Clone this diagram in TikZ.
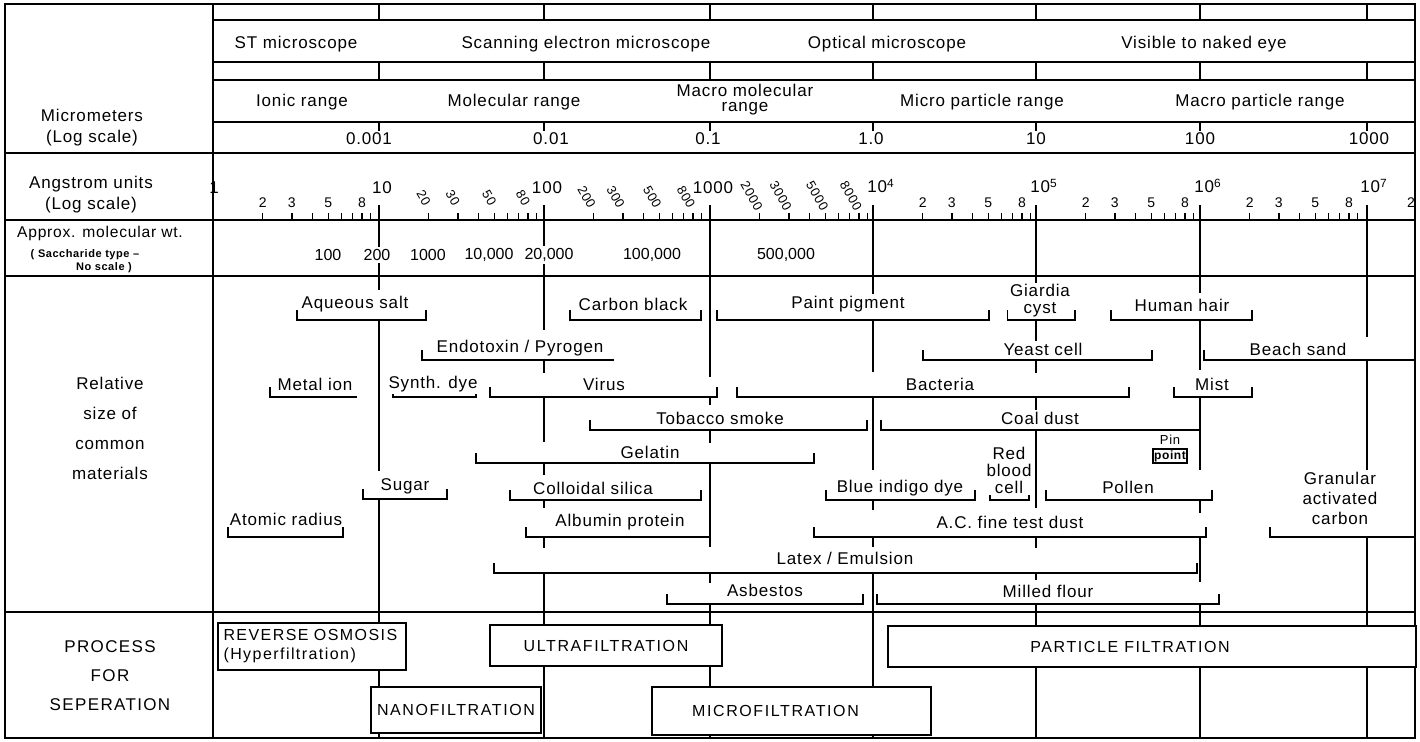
\documentclass[tikz,border=0pt]{standalone}
\usepackage{fontspec}
\setmainfont{Liberation Sans}[LetterSpace=5]
\usetikzlibrary{positioning}

% bracket with ticks at both ends / at the left end only
\newcommand{\brkb}[3]{\draw (#1,{#3-10}) -- (#1,#3) -- (#2,#3) -- (#2,{#3-10});}
\newcommand{\brkl}[3]{\draw (#1,{#3-10}) -- (#1,#3) -- (#2,#3);}

\begin{document}
\begin{tikzpicture}[
    x=0.5pt, y=-0.5pt,
    line width=0.8pt,
    font=\fontsize{8.5}{10}\selectfont,
    mat/.style={fill=white, inner sep=1pt, align=center},
    hdr/.style={inner sep=1pt, align=center},
    side/.style={inner sep=1pt, align=center, font=\fontsize{8.5}{10.5}\selectfont},
    small/.style={inner sep=0.5pt, font=\fontsize{7}{8}\selectfont},
    slant/.style={inner sep=0.5pt, rotate=-60, font=\fontsize{6.5}{7}\selectfont},
    mw/.style={fill=white, inner sep=1pt, font=\fontsize{8}{9}\selectfont\addfontfeature{LetterSpace=0}},
    pbox/.style={draw, fill=white, line width=1pt, minimum height=20.5pt, inner xsep=3pt,
                 font=\fontsize{8}{9.5}\selectfont\addfontfeature{LetterSpace=10}},
  ]
    \fill[white] (0,0) rectangle (1420,741);

    % Frame and rows
    \draw (5,4) rectangle (1415,738);
    \draw (213,4) -- (213,738);
    \foreach \y in {20,62,80,122} \draw (213,\y) -- (1415,\y);
    \foreach \y in {153,220,276,612} \draw (5,\y) -- (1415,\y);

    % Micrometer scale (top)
    \foreach \x in {379,544,710,873,1036,1200,1367} {
      \draw (\x,4) -- (\x,20);
      \draw (\x,62) -- (\x,80);
      \draw (\x,122) -- (\x,131);
      \draw (\x,205) -- (\x,276);
    }
    \node[hdr] (stm) at (296,44) {ST microscope};
    \node[hdr] (sem) at (586,44) {Scanning electron microscope};
    \node[hdr] (opm) at (887,44) {Optical microscope};
    \node[hdr] (nke) at (1204,44) {Visible to naked eye};
    \node[hdr] (ion) at (302,102) {Ionic range};
    \node[hdr] (mol) at (514,102) {Molecular range};
    \node[hdr, font=\fontsize{8.5}{7.5}\selectfont] (mmr) at (745,100) {Macro molecular\\range};
    \node[hdr] (mpr) at (982,102) {Micro particle range};
    \node[hdr] (Mpr) at (1260,102) {Macro particle range};
    \node[hdr] (um1) at (369,139) {0.001};
    \node[hdr] (um2) at (551,139) {0.01};
    \node[hdr] (um3) at (708,139) {0.1};
    \node[hdr] (um4) at (871,139) {1.0};
    \node[hdr] (um5) at (1036,139) {10};
    \node[hdr] (um6) at (1200,139) {100};
    \node[hdr] (um7) at (1369,139) {1000};
    \node[side] (lum) at (92,128) {Micrometers\\(Log scale)};

    % Angstrom scale
    \foreach \xa in {213,379,544,710,873,1036,1200}
      \foreach \k in {2,...,9}
        \draw ({\xa+165*log10(\k)},220) -- ++(0,-7);
    \foreach \xa in {213,873,1036,1200}
      \foreach \k in {2,3,5,8}
        \node[small] (a-\xa-\k) at ({\xa+165*log10(\k)},203) {\k};
    \node[small] (a-last) at (1411,203) {2};
    \foreach \k in {2,3,5,8} {
      \node[slant] (b-\k) at ({379+165*log10(\k)-5},198) {\k0};
      \node[slant] (c-\k) at ({544+165*log10(\k)-7},197) {\k00};
      \node[slant] (d-\k) at ({710+165*log10(\k)-8},196) {\k000};
    }
    \node[hdr] (ang0) at (214,188) {1};
    \node[hdr] (ang1) at (382,188) {10};
    \node[hdr] (ang2) at (547,188) {100};
    \node[hdr] (ang3) at (713,188) {1000};
    \node[hdr] (ang4) at (881,186) {10\textsuperscript{4}};
    \node[hdr] (ang5) at (1044,186) {10\textsuperscript{5}};
    \node[hdr] (ang6) at (1208,186) {10\textsuperscript{6}};
    \node[hdr] (ang7) at (1374,186) {10\textsuperscript{7}};
    \node[side] (lang) at (91,195) {Angstrom units\\(Log scale)};

    % Molecular weight row
    \node[hdr, font=\fontsize{7.8}{9}\selectfont] (lmw) at (100,233) {Approx. molecular wt.};
    \node[hdr, font=\fontsize{5.5}{6.5}\selectfont\bfseries] (lsc) at (85,255) {( Saccharide type --};
    \node[hdr, font=\fontsize{5.5}{6.5}\selectfont\bfseries] (lns) at (104,268) {No scale )};
    \node[mw] (mw1) at (328,255) {100};
    \node[mw] (mw2) at (377,255) {200};
    \node[mw] (mw3) at (428,255) {1000};
    \node[mw] (mw4) at (489,255) {10,000};
    \node[mw] (mw5) at (549,255) {20,000};
    \node[mw] (mw6) at (652,255) {100,000};
    \node[mw] (mw7) at (786,255) {500,000};

    % Decade lines through the materials and process rows
    \foreach \x/\ya/\yb in {379/276/290, 379/320/471, 379/499/738,
        544/276/330, 544/360/373, 544/397/442, 544/463/475, 544/500/508, 544/537/548, 544/573/738,
        710/276/377, 710/397/405, 710/430/443, 710/463/547, 710/573/583, 710/604/738,
        873/276/295, 873/320/372, 873/397/470, 873/500/510, 873/537/547, 873/573/738,
        1036/276/290, 1036/320/342, 1036/360/373, 1036/397/410, 1036/430/508,
        1036/537/548, 1036/573/580, 1036/604/738,
        1200/276/293, 1200/320/370, 1200/397/470, 1200/500/513, 1200/537/582, 1200/604/738,
        1367/276/337, 1367/360/474, 1367/537/738}
      \draw (\x,\ya) -- (\x,\yb);

    % Relative size of common materials
    \node[side, font=\fontsize{8.5}{15}\selectfont] (lrs) at (110,428) {Relative\\size of\\common\\materials};
    \brkb{297}{426}{320} \node[mat] (aqs) at (355,304) {Aqueous salt};
    \brkb{570}{701}{320} \node[mat] (cbk) at (633,304) {Carbon black};
    \brkb{717}{989}{320} \node[mat] (ppg) at (848,304) {Paint pigment};
    \brkb{1008}{1075}{320} \node[mat, font=\fontsize{8.5}{8.5}\selectfont] (gia) at (1040,301) {Giardia\\cyst};
    \brkb{1111}{1252}{320} \node[mat] (hhr) at (1182,305) {Human hair};
    \brkl{422}{614}{360} \node[mat] (eto) at (520,348) {Endotoxin / Pyrogen};
    \brkb{923}{1152}{360} \node[mat] (yst) at (1043,349) {Yeast cell};
    \brkl{1204}{1415}{360} \node[mat] (bsd) at (1298,349) {Beach sand};
    \brkl{270}{357}{397} \node[mat] (mio) at (315,384) {Metal ion};
    \brkb{393}{476}{397} \node[mat] (syd) at (433,384) {Synth. dye};
    \brkb{490}{717}{397} \node[mat] (vir) at (604,384) {Virus};
    \brkb{737}{1129}{397} \node[mat] (bac) at (940,384) {Bacteria};
    \brkb{1174}{1252}{397} \node[mat] (mst) at (1212,384) {Mist};
    \brkb{590}{867}{430} \node[mat] (tbs) at (720,418) {Tobacco smoke};
    \brkl{881}{1200}{430} \node[mat] (cld) at (1040,418) {Coal dust};
    \brkb{476}{814}{463} \node[mat] (gel) at (650,452) {Gelatin};
    \brkb{990}{1029}{500} \node[mat, font=\fontsize{8.5}{8.5}\selectfont] (rbc) at (1009,470) {Red\\blood\\cell};
    \node[draw, line width=1pt, inner sep=0.8pt, font=\fontsize{6}{6}\selectfont\bfseries] (pnt) at (1170,456) {point};
    \node[inner sep=0.5pt, font=\fontsize{6.5}{7}\selectfont, above=1pt of pnt] (pin) {Pin};
    \brkb{363}{447}{499} \node[mat] (sug) at (405,486) {Sugar};
    \brkb{510}{701}{500} \node[mat] (cls) at (593,488) {Colloidal silica};
    \brkb{826}{975}{500} \node[mat] (bid) at (900,488) {Blue indigo dye};
    \brkb{1046}{1212}{500} \node[mat] (pol) at (1128,487) {Pollen};
    \brkl{1270}{1415}{537} \node[mat] (gac) at (1340,498) {Granular\\activated\\carbon};
    \brkb{228}{343}{537} \node[mat] (atr) at (286,519) {Atomic radius};
    \brkb{526}{710}{537} \node[mat] (alb) at (620,522) {Albumin protein};
    \brkb{814}{1206}{537} \node[mat] (acd) at (1010,522) {A.C. fine test dust};
    \brkb{494}{1197}{573} \node[mat] (ltx) at (845,558) {Latex / Emulsion};
    \brkb{667}{863}{604} \node[mat] (asb) at (765,590) {Asbestos};
    \brkb{877}{1219}{604} \node[mat] (mfl) at (1048,591) {Milled flour};

    % Process for separation
    \node[side, font=\fontsize{8.5}{14.5}\selectfont\addfontfeature{LetterSpace=8}] (lps) at (110,676) {PROCESS\\FOR\\SEPERATION};
    \node[pbox, text width=88pt, align=left, font=\fontsize{8}{9.5}\selectfont] (ro) at (311.5,646.5)
      {\addfontfeature{LetterSpace=9}REVERSE OSMOSIS\\(Hyperfiltration)};
    \node[pbox, minimum width=116pt] (uf) at (606,645.5) {ULTRAFILTRATION};
    \node[pbox, minimum width=264pt] (pf) at (1152,646.5) {PARTICLE FILTRATION\hspace*{22pt}};
    \node[pbox, minimum width=84pt, minimum height=23pt] (nf) at (456,710) {NANOFILTRATION};
    \node[pbox, minimum width=139.5pt, minimum height=24pt] (mf) at (791.5,711) {MICROFILTRATION\hspace*{16pt}};
  \end{tikzpicture}
\end{document}
